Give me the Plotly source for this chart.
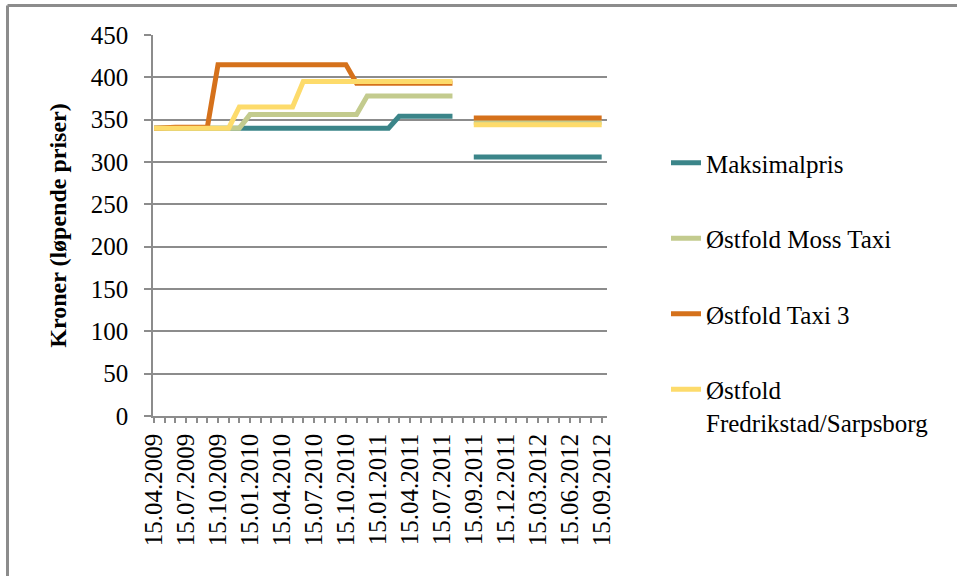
import plotly.graph_objects as go

# monthly observation dates (category axis, every third one is labelled)
dates = [
    "15.04.2009", "15.05.2009", "15.06.2009", "15.07.2009", "15.08.2009",
    "15.09.2009", "15.10.2009", "15.11.2009", "15.12.2009", "15.01.2010",
    "15.02.2010", "15.03.2010", "15.04.2010", "15.05.2010", "15.06.2010",
    "15.07.2010", "15.08.2010", "15.09.2010", "15.10.2010", "15.11.2010",
    "15.12.2010", "15.01.2011", "15.02.2011", "15.03.2011", "15.04.2011",
    "15.05.2011", "15.06.2011", "15.07.2011", "15.08.2011", "01.09.2011",
    "15.09.2011", "15.10.2011", "15.11.2011", "15.12.2011", "15.01.2012",
    "15.02.2012", "15.03.2012", "15.04.2012", "15.05.2012", "15.06.2012",
    "15.07.2012", "15.08.2012", "15.09.2012",
]

maksimalpris = [
    340, 340, 340, 340, 340, 340, 340, 340, 340, 340,
    340, 340, 340, 340, 340, 340, 340, 340, 340, 340,
    340, 340, 340, 354, 354, 354, 354, 354, 354, None,
    306, 306, 306, 306, 306, 306, 306, 306, 306, 306,
    306, 306, 306,
]
moss_taxi = [
    340, 340, 340, 340, 340, 340, 340, 340, 340, 356,
    356, 356, 356, 356, 356, 356, 356, 356, 356, 356,
    378, 378, 378, 378, 378, 378, 378, 378, 378, None,
    347, 347, 347, 347, 347, 347, 347, 347, 347, 347,
    347, 347, 347,
]
taxi_3 = [
    340, 341, 341, 341, 341, 341, 415, 415, 415, 415,
    415, 415, 415, 415, 415, 415, 415, 415, 415, 393,
    393, 393, 393, 393, 393, 393, 393, 393, 393, None,
    352, 352, 352, 352, 352, 352, 352, 352, 352, 352,
    352, 352, 352,
]
fredrikstad = [
    340, 340, 340, 340, 340, 340, 340, 340, 365, 365,
    365, 365, 365, 365, 395, 395, 395, 395, 395, 395,
    395, 395, 395, 395, 395, 395, 395, 395, 395, None,
    344, 344, 344, 344, 344, 344, 344, 344, 344, 344,
    344, 344, 344,
]

series_names = ["Maksimalpris", "Østfold Moss Taxi", "Østfold Taxi 3",
                "Østfold<br>Fredrikstad/Sarpsborg"]
series_values = [maksimalpris, moss_taxi, taxi_3, fredrikstad]
series_colors = ["#3B8589", "#C3CB8E", "#D5711B", "#FDDB6B"]

y_ticks = [0, 50, 100, 150, 200, 250, 300, 350, 400, 450]

W, H = 957, 576
ML, MR, MT, MB = 153, 350, 35, 160
GRAY = "#8C8C8C"
FONT = "Liberation Serif"

x_idx = list(range(len(dates)))
tick_text = [d if i % 3 == 0 else "" for i, d in enumerate(dates)]

fig = go.Figure()
for name, vals, col in zip(series_names, series_values, series_colors):
    fig.add_trace(go.Scatter(
        x=x_idx, y=vals, name=name, mode="lines",
        line=dict(color=col, width=5),
        legendgroup=name,
    ))

# outer chart frame (only top and left edges fall inside the picture)
pw = W - ML - MR
ph = H - MT - MB
fx0 = (7.5 - ML) / pw
fy1 = (H - MB - 5.5) / ph
fig.add_shape(type="line", xref="paper", yref="paper",
              x0=fx0, x1=(W - ML) / pw + 0.05, y0=fy1, y1=fy1,
              line=dict(color=GRAY, width=3))
fig.add_shape(type="line", xref="paper", yref="paper",
              x0=fx0, x1=fx0, y0=fy1, y1=-MB / ph - 0.05,
              line=dict(color=GRAY, width=3))

fig.update_layout(
    width=W, height=H,
    margin=dict(l=ML, r=MR, t=MT, b=MB),
    plot_bgcolor="white", paper_bgcolor="white",
    font=dict(family=FONT, color="black", size=25),
    xaxis=dict(
        range=[-0.1, 42.5],
        tickvals=x_idx, ticktext=tick_text,
        tickangle=-90,
        ticks="outside", ticklen=5, tickcolor=GRAY, tickwidth=1.5,
        ticklabelstandoff=1,
        showline=True, linecolor=GRAY, linewidth=1.5,
        showgrid=False, zeroline=False,
        tickfont=dict(size=25),
    ),
    yaxis=dict(
        range=[0, 450],
        tickvals=y_ticks,
        ticks="outside", ticklen=7, tickcolor=GRAY, tickwidth=1.5,
        ticklabelstandoff=11,
        showline=True, linecolor=GRAY, linewidth=1.5,
        showgrid=True, gridcolor=GRAY, gridwidth=1.5,
        zeroline=False,
        tickfont=dict(size=25),
        title=dict(text="<b>Kroner (løpende priser)</b>",
                   font=dict(size=24), standoff=17),
    ),
    legend=dict(
        x=(666 - ML) / pw, xanchor="left",
        y=(H - MB - 140) / ph, yanchor="top",
        valign="top",
        tracegroupgap=40,
        font=dict(size=25),
        bgcolor="rgba(0,0,0,0)",
    ),
)

fig.write_html("out.html", config={"displayModeBar": False},
               post_script="document.body.style.margin = '0';")
